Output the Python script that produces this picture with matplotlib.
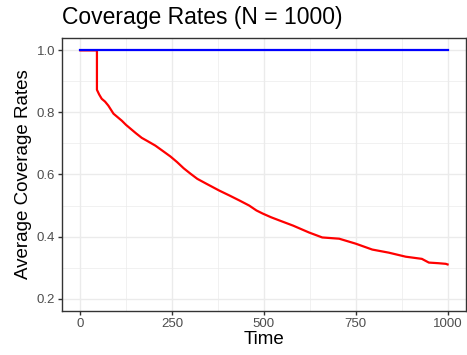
import numpy as np
import matplotlib.pyplot as plt
from matplotlib.ticker import MultipleLocator

plt.rcParams['font.family'] = ['Liberation Sans', 'DejaVu Sans']

# values
time_red = [1, 46, 46, 52, 59, 68, 77, 91, 102, 114, 125, 137, 152, 168, 186, 205,
            225, 246, 264, 282, 300, 319, 344, 379, 407, 434, 460, 480, 497, 520,
            542, 580, 623, 659, 705, 750, 795, 840, 886, 930, 949, 975, 995, 1000]
rate_red = [1.0, 1.0, 0.873, 0.858, 0.844, 0.835, 0.822, 0.796, 0.785, 0.773, 0.760,
            0.748, 0.733, 0.718, 0.706, 0.693, 0.676, 0.658, 0.640, 0.620, 0.603,
            0.586, 0.570, 0.548, 0.532, 0.516, 0.500, 0.484, 0.474, 0.462, 0.452,
            0.435, 0.413, 0.397, 0.393, 0.377, 0.358, 0.348, 0.335, 0.328, 0.316,
            0.314, 0.312, 0.310]
time_blue = [1, 1000]
rate_blue = [1.0, 1.0]

fig = plt.figure(figsize=(4.67, 3.55), dpi=100)
ax = fig.add_axes([0.1328, 0.124, 0.865, 0.769])

ax.plot(time_red, rate_red, color='#FF0000', linewidth=1.6, solid_joinstyle='round')
ax.plot(time_blue, rate_blue, color='#0000FF', linewidth=1.6)

ax.set_xlim(-49, 1050)
ax.set_ylim(0.16, 1.04)
ax.xaxis.set_major_locator(MultipleLocator(250))
ax.xaxis.set_minor_locator(MultipleLocator(125))
ax.yaxis.set_major_locator(MultipleLocator(0.2))
ax.yaxis.set_minor_locator(MultipleLocator(0.1))
ax.yaxis.set_major_formatter(plt.FuncFormatter(lambda v, p: '%.1f' % v))

ax.grid(which='major', color='#EBEBEB', linewidth=1.0)
ax.grid(which='minor', color='#EBEBEB', linewidth=0.5)
ax.set_axisbelow(True)
for s in ax.spines.values():
    s.set_color('#333333')
    s.set_linewidth(1.0)
ax.tick_params(which='major', length=3, width=1, color='#333333',
               labelcolor='#4D4D4D', labelsize=9.5, pad=2)
ax.tick_params(which='minor', length=0)

ax.set_xlabel('Time', fontsize=13.5, labelpad=1)
ax.set_ylabel('Average Coverage Rates', fontsize=13.5, labelpad=3)
fig.text(62 / 467, 1 - 24 / 355, 'Coverage Rates (N = 1000)', fontsize=16.5,
         va='baseline')

fig.savefig('out.png', dpi=100)
